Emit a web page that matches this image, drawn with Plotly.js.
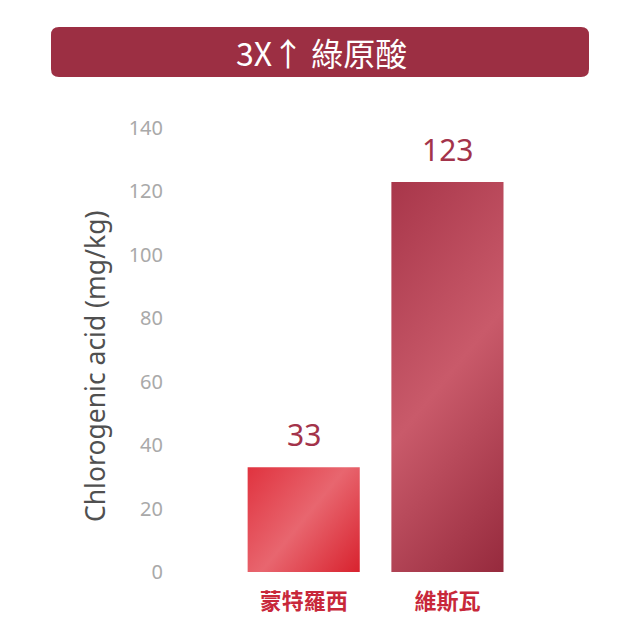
<!DOCTYPE html>
<html>
<head>
<meta charset="utf-8">
<script src="https://cdn.plot.ly/plotly-3.0.1.min.js"></script>
<style>
  html, body { margin: 0; padding: 0; background: #fff; }
  #plot { width: 640px; height: 640px; }
</style>
</head>
<body>
<div id="plot"></div>
<script>
// values
var varieties = ["蒙特羅西", "維斯瓦"];
var chlorogenic = [33, 123];
var yTicks = [0, 20, 40, 60, 80, 100, 120, 140];
var heading = "3X↑ 綠原酸";
var yLabel = "Chlorogenic acid (mg/kg)";

var barColors = ["#df3a49", "#b3404f"];
var labelRed = "#c8283a";
var valueRed = "#a3334a";

var trace = {
  x: varieties,
  y: chlorogenic,
  type: "bar",
  width: 0.78,
  marker: { color: barColors, line: { width: 0 } },
  hoverinfo: "none"
};

// value labels sit a little above each bar
var valueNotes = varieties.map(function (v, i) {
  return {
    x: v, y: chlorogenic[i], xref: "x", yref: "y",
    text: String(chlorogenic[i]), showarrow: false,
    yanchor: "bottom", yshift: 10,
    font: { family: "Noto Sans", size: 30, color: valueRed }
  };
});

var L = 168, T = 128, W = 392, H = 444;
function px(x) { return (x - L) / W; }
function py(y) { return (T + H - y) / H; }

var layout = {
  width: 640, height: 640,
  margin: { l: L, r: 640 - L - W, t: T, b: 640 - T - H },
  paper_bgcolor: "#fff", plot_bgcolor: "#fff",
  showlegend: false,
  font: { family: "Noto Sans" },
  xaxis: {
    type: "category",
    range: [-0.944, 1.783],
    showgrid: false, zeroline: false, showline: false,
    ticks: "", ticklabelstandoff: 14,
    tickfont: { family: "Noto Sans CJK TC", size: 22, color: labelRed, weight: 600 }
  },
  yaxis: {
    range: [0, 140],
    tickvals: yTicks,
    showgrid: false, zeroline: false, showline: false,
    ticks: "", ticklabelstandoff: 4,
    tickfont: { family: "Noto Sans", size: 20, color: "#a9a9a9" }
  },
  shapes: [{
    type: "path", xref: "paper", yref: "paper",
    path: roundRect(51, 27, 589, 77, 8),
    fillcolor: "#9c2f43", line: { width: 0 }, layer: "above"
  }],
  annotations: valueNotes.concat([{
    xref: "paper", yref: "paper",
    x: px(321), y: py(52),
    text: heading, showarrow: false,
    xanchor: "center", yanchor: "middle",
    font: { family: "Noto Sans CJK TC", size: 32, color: "#fff" }
  }, {
    xref: "paper", yref: "paper",
    x: px(95), y: py(367),
    text: yLabel, showarrow: false, textangle: -90,
    xanchor: "center", yanchor: "middle",
    font: { family: "Noto Sans", size: 26.5, color: "#505050" }
  }])
};

// rounded banner above the plot, pixel corners turned into paper units
function roundRect(x0, y0, x1, y1, r) {
  function P(x, y) { return px(x).toFixed(5) + "," + py(y).toFixed(5); }
  return "M" + P(x0 + r, y0) +
    " L" + P(x1 - r, y0) + " Q" + P(x1, y0) + " " + P(x1, y0 + r) +
    " L" + P(x1, y1 - r) + " Q" + P(x1, y1) + " " + P(x1 - r, y1) +
    " L" + P(x0 + r, y1) + " Q" + P(x0, y1) + " " + P(x0, y1 - r) +
    " L" + P(x0, y0 + r) + " Q" + P(x0, y0) + " " + P(x0 + r, y0) + " Z";
}

// diagonal sheen on each bar: dark, light streak, dark
var sheens = [
  ["#e0333f", "#e8666f", "#d8222e"],
  ["#a8364a", "#c95a6a", "#962a3d"]
];

function addSheen(gd) {
  var svg = gd.querySelector(".main-svg");
  var ns = "http://www.w3.org/2000/svg";
  var defs = svg.querySelector("defs") || svg.insertBefore(document.createElementNS(ns, "defs"), svg.firstChild);
  var paths = gd.querySelectorAll(".barlayer .point path");
  var ang = Math.atan2(112, 137);
  var c = Math.cos(ang), s = Math.sin(ang);
  paths.forEach(function (p, i) {
    var b = p.getBBox();
    var cx = b.x + b.width / 2, cy = b.y + b.height / 2;
    var half = (b.width / 2) * c + (b.height / 2) * s;
    var id = "sheen" + i;
    var g = document.createElementNS(ns, "linearGradient");
    g.setAttribute("id", id);
    g.setAttribute("gradientUnits", "userSpaceOnUse");
    g.setAttribute("x1", cx - half * c); g.setAttribute("y1", cy - half * s);
    g.setAttribute("x2", cx + half * c); g.setAttribute("y2", cy + half * s);
    [0, 0.5, 1].forEach(function (o, k) {
      var st = document.createElementNS(ns, "stop");
      st.setAttribute("offset", o);
      st.setAttribute("stop-color", sheens[i][k]);
      g.appendChild(st);
    });
    defs.appendChild(g);
    p.style.fill = "url(#" + id + ")";
  });
}

Plotly.newPlot("plot", [trace], layout, { displayModeBar: false, staticPlot: true })
  .then(addSheen);
</script>
</body>
</html>
